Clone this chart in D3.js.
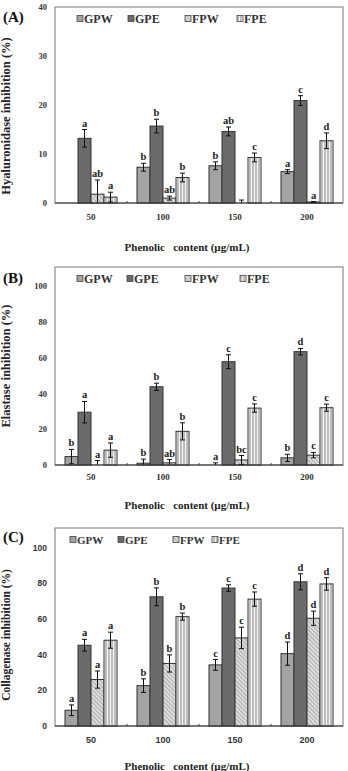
<!DOCTYPE html>
<html><head><meta charset="utf-8">
<script src="https://cdn.jsdelivr.net/npm/d3@7"></script>
<style>body{margin:0;background:#fff}svg{display:block}</style>
</head><body>
<svg id="c" width="348" height="771"></svg>
<script>
const groups = ["50","100","150","200"];
const series = ["GPW","GPE","FPW","FPE"];

// Panel A: Hyaluronidase
const aGPW = [null, 7.3, 7.6, 6.4];
const aGPE = [13.2, 15.7, 14.6, 20.9];
const aFPW = [1.8, 1.0, 0, 0.2];
const aFPE = [1.2, 5.2, 9.3, 12.7];
const aErrGPW = [0, 0.8, 0.8, 0.4];
const aErrGPE = [1.8, 1.4, 0.9, 1.0];
const aErrFPW = [2.9, 0.4, 0.6, 0.1];
const aErrFPE = [1.0, 0.9, 0.9, 1.6];
const aLetGPW = ["", "b", "b", "a"];
const aLetGPE = ["a", "b", "ab", "c"];
const aLetFPW = ["ab", "ab", "", "a"];
const aLetFPE = ["a", "b", "c", "d"];
const aTicks = [0, 10, 20, 30, 40];

// Panel B: Elastase
const bGPW = [4.7, 1.0, 0, 4.0];
const bGPE = [29.5, 43.7, 57.7, 63.3];
const bFPW = [0, 1.2, 2.8, 5.5];
const bFPE = [8.3, 18.8, 31.8, 32.0];
const bErrGPW = [4.0, 2.3, 1.2, 2.0];
const bErrGPE = [6.0, 2.0, 3.9, 1.8];
const bErrFPW = [2.5, 1.8, 2.5, 1.5];
const bErrFPE = [4.0, 4.8, 2.3, 2.0];
const bLetGPW = ["b", "b", "a", "b"];
const bLetGPE = ["a", "b", "c", "d"];
const bLetFPW = ["a", "ab", "bc", "c"];
const bLetFPE = ["a", "b", "c", "c"];
const bTicks = [0, 20, 40, 60, 80, 100];

// Panel C: Collagenase
const cGPW = [8.8, 22.6, 34.2, 40.5];
const cGPE = [45.2, 72.3, 77.2, 80.7];
const cFPW = [26.0, 35.0, 49.3, 60.3];
const cFPE = [48.0, 61.2, 71.0, 79.5];
const cErrGPW = [3.0, 3.8, 3.0, 6.5];
const cErrGPE = [3.3, 5.0, 1.8, 4.5];
const cErrFPW = [4.8, 4.8, 6.0, 4.0];
const cErrFPE = [4.5, 2.0, 4.0, 3.5];
const cLetGPW = ["a", "b", "c", "d"];
const cLetGPE = ["a", "b", "c", "d"];
const cLetFPW = ["a", "b", "c", "d"];
const cLetFPE = ["a", "b", "c", "d"];
const cTicks = [0, 20, 40, 60, 80, 100];

const SERIF = "'Liberation Serif','Times New Roman',serif";
const SANS = "'Liberation Sans',Arial,sans-serif";

const svg = d3.select("#c");
const defs = svg.append("defs");
const hatch = defs.append("pattern").attr("id","hatch").attr("patternUnits","userSpaceOnUse")
  .attr("width",3).attr("height",3).attr("patternTransform","rotate(-45)");
hatch.append("rect").attr("width",3).attr("height",3).attr("fill","#dedede");
hatch.append("line").attr("x1",0).attr("y1",0).attr("x2",0).attr("y2",3).attr("stroke","#777").attr("stroke-width",1);
const vstripe = defs.append("pattern").attr("id","vstripe").attr("patternUnits","userSpaceOnUse")
  .attr("width",3).attr("height",3);
vstripe.append("rect").attr("width",3).attr("height",3).attr("fill","#f4f4f4");
vstripe.append("line").attr("x1",1).attr("y1",0).attr("x2",1).attr("y2",3).attr("stroke","#888").attr("stroke-width",1);

const fills = {GPW:"#a3a3a3", GPE:"#6b6b6b", FPW:"url(#hatch)", FPE:"url(#vstripe)"};

function panel(cfg) {
  const g = svg.append("g");
  const x0 = d3.scaleBand().domain(groups).range([55, 343]).paddingInner(0).paddingOuter(0);
  const inner = 52;
  const x1 = d3.scaleBand().domain(series).range([0, inner]);
  const y = d3.scaleLinear().domain([0, cfg.max]).range([cfg.bottom, cfg.top]);

  g.append("rect").attr("x",55).attr("y",cfg.top).attr("width",288).attr("height",cfg.bottom-cfg.top)
    .attr("fill","none").attr("stroke","#777").attr("stroke-width",1);

  series.forEach((s, si) => {
    const vals = cfg.vals[si], errs = cfg.errs[si], lets = cfg.lets[si];
    groups.forEach((gr, gi) => {
      const v = vals[gi];
      if (v === null) return;
      const bx = x0(gr) + (x0.bandwidth()-inner)/2 + x1(s);
      const bw = x1.bandwidth();
      if (v > 0) {
        g.append("rect").attr("x",bx).attr("y",y(v)).attr("width",bw).attr("height",y(0)-y(v))
          .attr("fill",fills[s]).attr("stroke","#333").attr("stroke-width",1);
      }
      const e = errs[gi];
      const cx = bx + bw/2;
      if (e > 0) {
        const lo = Math.max(0, v - e), hi = v + e;
        g.append("line").attr("x1",cx).attr("x2",cx).attr("y1",y(lo)).attr("y2",y(hi)).attr("stroke","#111").attr("stroke-width",1);
        g.append("line").attr("x1",cx-2.5).attr("x2",cx+2.5).attr("y1",y(hi)).attr("y2",y(hi)).attr("stroke","#111").attr("stroke-width",1);
        if (v - e > 0) g.append("line").attr("x1",cx-2.5).attr("x2",cx+2.5).attr("y1",y(lo)).attr("y2",y(lo)).attr("stroke","#111").attr("stroke-width",1);
      }
      if (lets[gi]) {
        g.append("text").attr("x",cx).attr("y",y(v+e)-3).attr("text-anchor","middle")
          .attr("font-family",SERIF).attr("font-weight","bold").attr("font-size",10.5).attr("fill","#222")
          .text(lets[gi]);
      }
    });
  });

  g.append("line").attr("x1",55).attr("x2",343).attr("y1",cfg.bottom).attr("y2",cfg.bottom).attr("stroke","#333").attr("stroke-width",1.2);
  groups.slice(1).forEach(gr => {
    g.append("line").attr("x1",x0(gr)).attr("x2",x0(gr)).attr("y1",cfg.bottom).attr("y2",cfg.bottom-2).attr("stroke","#444");
  });

  const ya = g.append("g").attr("transform","translate(55,0)")
    .call(d3.axisLeft(y).tickValues(cfg.ticks).tickSize(0).tickPadding(8));
  ya.select(".domain").remove();
  ya.selectAll("text").attr("font-family",cfg.tickFont).attr("font-weight","bold").attr("font-size",cfg.tickSize).attr("fill","#333");

  const xa = g.append("g").attr("transform",`translate(0,${cfg.bottom})`)
    .call(d3.axisBottom(x0).tickSize(0).tickPadding(cfg.xPad));
  xa.select(".domain").remove();
  xa.selectAll("text").attr("font-family",cfg.tickFont).attr("font-weight","bold").attr("font-size",cfg.tickSize+0.5).attr("fill","#333");

  g.append("text").attr("x",187).attr("y",cfg.xTitleY).attr("text-anchor","middle")
    .attr("font-family",SERIF).attr("font-weight","bold").attr("font-size",11).attr("fill","#222")
    .style("white-space","pre").text("Phenolic   content (\u00b5g/mL)");

  g.append("text").attr("transform",`translate(10,${cfg.yTitleY}) rotate(-90)`).attr("text-anchor","middle")
    .attr("font-family",SERIF).attr("font-weight","bold").attr("font-size",cfg.yTitleSize).attr("fill","#222")
    .text(cfg.yTitle);

  g.append("text").attr("x",3).attr("y",cfg.labelY).attr("font-family",SERIF).attr("font-weight","bold")
    .attr("font-size",15).attr("fill","#111").text(cfg.label);

  series.forEach((s, si) => {
    const lx = cfg.legX[si];
    g.append("rect").attr("x",lx).attr("y",cfg.legY-3.5).attr("width",6).attr("height",6)
      .attr("fill",fills[s]).attr("stroke","#444").attr("stroke-width",0.8);
    g.append("text").attr("x",lx+7).attr("y",cfg.legY+4).attr("font-family",SERIF).attr("font-weight","bold")
      .attr("font-size",cfg.legSize).attr("fill","#333").text(s);
  });
}

panel({top:7, bottom:203, max:40, ticks:aTicks,
  vals:[aGPW,aGPE,aFPW,aFPE], errs:[aErrGPW,aErrGPE,aErrFPW,aErrFPE], lets:[aLetGPW,aLetGPE,aLetFPW,aLetFPE],
  tickFont:SERIF, tickSize:8.5, xPad:11, xTitleY:251, yTitle:"Hyaluronidase inhibition (%)", yTitleY:116, yTitleSize:12.5,
  label:"(A)", labelY:22, legX:[77,128,185,237], legY:19, legSize:12});

panel({top:267, bottom:465, max:110.6, ticks:bTicks,
  vals:[bGPW,bGPE,bFPW,bFPE], errs:[bErrGPW,bErrGPE,bErrFPW,bErrFPE], lets:[bLetGPW,bLetGPE,bLetFPW,bLetFPE],
  tickFont:SERIF, tickSize:8.5, xPad:9, xTitleY:509, yTitle:"Elastase inhibition (%)", yTitleY:366, yTitleSize:12.5,
  label:"(B)", labelY:283, legX:[77,127,185,240], legY:279, legSize:12});

panel({top:528, bottom:726, max:110.8, ticks:cTicks,
  vals:[cGPW,cGPE,cFPW,cFPE], errs:[cErrGPW,cErrGPE,cErrFPW,cErrFPE], lets:[cLetGPW,cLetGPE,cLetFPW,cLetFPE],
  tickFont:SANS, tickSize:8.5, xPad:11, xTitleY:770, yTitle:"Collagenase inhibition (%)", yTitleY:635, yTitleSize:11.5,
  label:"(C)", labelY:542, legX:[70,118,173,212], legY:540, legSize:11});
</script>
</body></html>
